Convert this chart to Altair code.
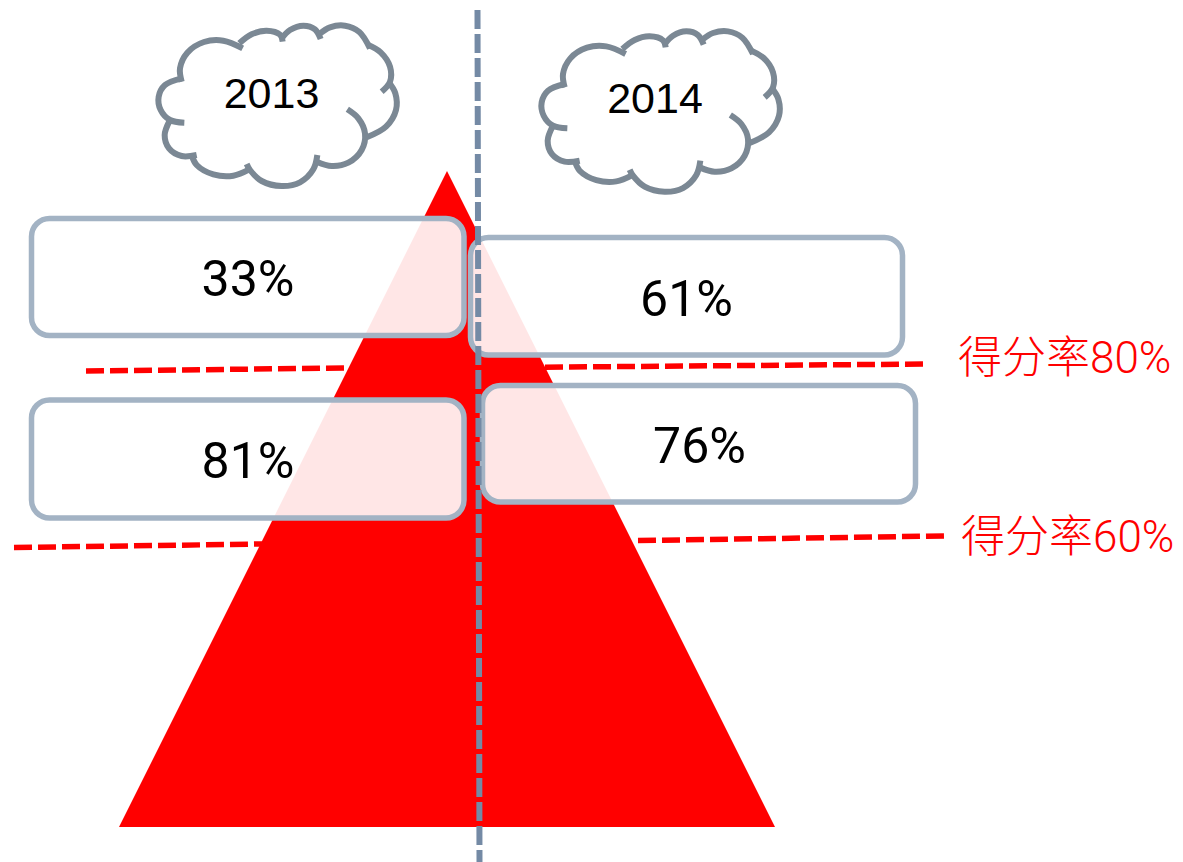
import altair as alt
import pandas as pd

W, H = 1167, 854
xs = alt.Scale(domain=[8, 1175], nice=False, zero=False)
ys = alt.Scale(domain=[862, 8], nice=False, zero=False)

# pyramid
tri_x = [119, 447, 775]
tri_top = [827, 171, 827]
tri_base = [827, 827, 827]

# red score lines, visible parts either side of the pyramid
red_x0 = [86, 545, 14, 638]
red_y0 = [371, 367.2, 547.5, 540.5]
red_x1 = [348, 928, 262, 944]
red_y1 = [368, 364, 544, 536]

# divider
div_x0, div_y0, div_x1, div_y1 = [477.5], [10], [479.5], [862]

# boxes
box_x0 = [31.5, 31.5, 470.5, 482.5]
box_x1 = [464, 464, 902.5, 915.5]
box_y0 = [218.5, 400, 237.5, 385.5]
box_y1 = [335.5, 518, 355, 502]

# box labels
pct_text = ["33%", "81%", "61%", "76%"]
pct_x = [248, 248, 686.5, 699.5]
pct_y = [296, 478, 316, 463]

# year labels
year_text = ["2013", "2014"]
year_x = [271.5, 655]
year_y = [107.5, 113]

# red labels
score_text = ["得分率80%", "得分率60%"]
score_x = [958, 961]
score_y = [373, 552]

# cloud outline arcs, in 3x units of the cloud's own frame
cloud_arcs = [
    [(125, 215), (120, 175), (142, 128), (192, 96), (250, 92), (308, 115)],
    [(298, 100), (335, 73), (380, 62), (420, 74), (428, 95)],
    [(425, 85), (450, 60), (490, 47), (525, 58), (542, 87)],
    [(538, 72), (570, 52), (615, 47), (658, 66), (690, 115)],
    [(685, 105), (722, 127), (750, 170), (750, 215), (725, 245)],
    [(745, 215), (766, 250), (768, 300), (738, 350), (680, 382)],
    [(622, 298), (655, 325), (675, 370), (665, 420), (625, 458), (575, 468), (530, 455)],
    [(532, 435), (520, 478), (480, 517), (425, 528), (365, 513), (330, 480), (320, 462)],
    [(328, 478), (280, 497), (220, 493), (170, 465), (155, 435)],
    [(170, 435), (125, 438), (87, 415), (74, 375), (90, 330)],
    [(133, 338), (90, 330), (62, 300), (56, 260), (75, 225), (125, 205)],
]
cloud_origin_x = [140, 523]
cloud_origin_y = [10, 15.7]

rows = []
for c, (ox, oy) in enumerate(zip(cloud_origin_x, cloud_origin_y)):
    for a, arc in enumerate(cloud_arcs):
        for i, (px, py) in enumerate(arc):
            rows.append({"arc": f"{c}-{a}", "i": i, "x": ox + px / 3, "y": oy + py / 3})
cloud_df = pd.DataFrame(rows)

X = alt.X("x:Q", scale=xs, axis=None)
Y = alt.Y("y:Q", scale=ys, axis=None)

red_df = pd.DataFrame({"x": red_x0, "x2": red_x1, "y": red_y0, "y2": red_y1})
red = alt.Chart(red_df).mark_rule(color="#ff0000", strokeWidth=5.5, strokeDash=[18, 6]).encode(
    x=X, y=Y, x2="x2:Q", y2="y2:Q"
)

tri_df = pd.DataFrame({"x": tri_x, "y": tri_top, "y2": tri_base})
tri = alt.Chart(tri_df).mark_area(color="#ff0000", opacity=1).encode(x=X, y=Y, y2="y2:Q")

box_df = pd.DataFrame({"x": box_x0, "x2": box_x1, "y": box_y0, "y2": box_y1})
boxes = alt.Chart(box_df).mark_rect(
    fill="#ffffff", fillOpacity=0.9, stroke="#a3b3c4", strokeWidth=5.5, cornerRadius=18
).encode(x=X, y=Y, x2="x2:Q", y2="y2:Q")

div_df = pd.DataFrame({"x": div_x0, "x2": div_x1, "y": div_y0, "y2": div_y1})
divider = alt.Chart(div_df).mark_rule(color="#748aa5", strokeWidth=6, strokeDash=[19, 5]).encode(
    x=X, y=Y, x2="x2:Q", y2="y2:Q"
)

clouds = alt.Chart(cloud_df).mark_line(
    color="#7b8894", strokeWidth=6, interpolate="catmull-rom"
).encode(x=X, y=Y, detail="arc:N", order="i:Q")

pct = alt.Chart(pd.DataFrame({"x": pct_x, "y": pct_y, "t": pct_text})).mark_text(
    font="Roboto", fontSize=50, color="#000000", align="center", baseline="alphabetic"
).encode(x=X, y=Y, text="t:N")

years = alt.Chart(pd.DataFrame({"x": year_x, "y": year_y, "t": year_text})).mark_text(
    font="Liberation Sans", fontSize=43, color="#000000", align="center", baseline="alphabetic"
).encode(x=X, y=Y, text="t:N")

scores = alt.Chart(pd.DataFrame({"x": score_x, "y": score_y, "t": score_text})).mark_text(
    font="Roboto, Noto Sans CJK SC", fontSize=44, fontWeight=300, color="#ff0000",
    align="left", baseline="alphabetic"
).encode(x=X, y=Y, text="t:N")

chart = alt.layer(red, tri, boxes, divider, clouds, pct, years, scores).properties(
    width=W, height=H, padding=0, autosize=alt.AutoSizeParams(type="none"), background="#ffffff"
).configure_view(stroke=None)

chart.save("out.html", embed_options={"renderer": "svg", "actions": False})
